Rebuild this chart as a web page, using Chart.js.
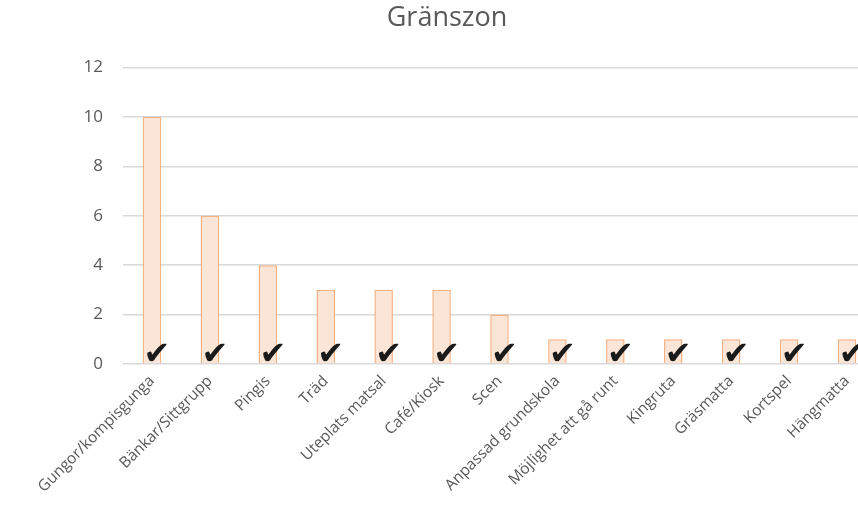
<!DOCTYPE html>
<html>
<head>
<meta charset="utf-8">
<script src="https://cdn.jsdelivr.net/npm/chart.js@4/dist/chart.umd.min.js"></script>
<style>
html,body{margin:0;padding:0;background:#fff;overflow:hidden;}
#wrap{width:858px;height:522px;position:relative;overflow:hidden;}
</style>
</head>
<body>
<div id="wrap"><canvas id="c" width="894" height="522"></canvas></div>
<script>
const categories = ["Gungor/kompisgunga","Bänkar/Sittgrupp","Pingis","Träd","Uteplats matsal","Café/Kiosk","Scen","Anpassad grundskola","Möjlighet att gå runt","Kingruta","Gräsmatta","Kortspel","Hängmatta"];
const values = [10,6,4,3,3,3,2,1,1,1,1,1,1];
const yTicks = [0,2,4,6,8,10,12];
const chartTitle = "Gränszon";

const checkPlugin = {
  id: 'checks',
  afterDatasetsDraw(chart) {
    const ctx = chart.ctx;
    const xs = chart.scales.x, ys = chart.scales.y;
    ctx.save();
    ctx.fillStyle = '#1a1a1a';
    ctx.font = 'bold 32px "DejaVu Sans"';
    ctx.textAlign = 'center';
    ctx.textBaseline = 'bottom';
    categories.forEach((c, i) => {
      const x = xs.getPixelForValue(i) + 5;
      const y = ys.getPixelForValue(0) + 8;
      ctx.fillText('\u2714', x, y);
    });
    ctx.restore();
  }
};

new Chart(document.getElementById('c'), {
  type: 'bar',
  data: {
    labels: categories,
    datasets: [{
      data: values,
      backgroundColor: '#FBE5D6',
      borderColor: '#F4B183',
      borderWidth: 1.5,
      barPercentage: 0.32,
      categoryPercentage: 1.0
    }]
  },
  options: {
    responsive: false,
    animation: false,
    devicePixelRatio: 1,
    layout: { padding: { left: 18, right: 18, top: 0, bottom: 0 } },
    plugins: {
      legend: { display: false },
      tooltip: { enabled: false },
      title: {
        display: true,
        text: chartTitle,
        color: '#595959',
        font: { family: '"Open Sans"', size: 27, weight: 'normal' },
        padding: { top: 2, bottom: 33 }
      }
    },
    scales: {
      x: {
        grid: { display: false, drawTicks: false },
        border: { display: false },
        ticks: {
          color: '#595959',
          font: { family: '"Open Sans"', size: 15.5 },
          maxRotation: 45, minRotation: 45,
          autoSkip: false,
          padding: 8
        },
        afterFit(scale) { scale.height = 158; }
      },
      y: {
        min: 0, max: 12,
        afterBuildTicks(scale) { scale.ticks = yTicks.map(v => ({ value: v })); },
        grid: { color: '#D9D9D9', lineWidth: 1.5, drawTicks: false },
        border: { display: false },
        ticks: {
          color: '#595959',
          font: { family: '"Open Sans"', size: 17 },
          padding: 20
        },
        afterFit(scale) { scale.width = 105; }
      }
    }
  },
  plugins: [checkPlugin]
});
</script>
</body>
</html>
